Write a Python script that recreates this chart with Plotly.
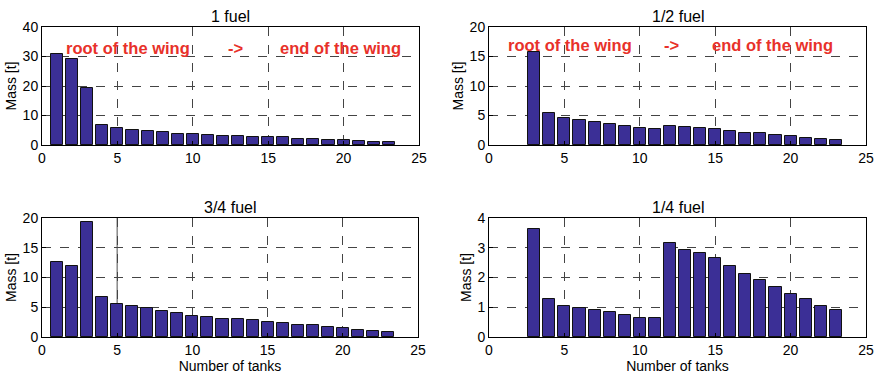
import plotly.graph_objects as go

tanks = list(range(1, 24))
full_fuel = [30.8, 29.3, 19.4, 6.9, 5.8, 5.2, 4.8, 4.5, 3.9, 3.7, 3.4, 3.1, 3.1, 2.8, 2.8, 2.6, 2.2, 1.9, 1.6, 1.6, 1.3, 1.1, 1.1]
half_fuel = [None, None, 15.7, 5.4, 4.55, 4.2, 3.9, 3.5, 3.3, 2.9, 2.7, 3.15, 3.1, 2.9, 2.7, 2.4, 2.1, 2.0, 1.7, 1.5, 1.25, 1.1, 0.9]
three_q_fuel = [12.6, 12.0, 19.3, 6.7, 5.5, 5.15, 4.9, 4.4, 4.0, 3.5, 3.4, 3.1, 3.0, 2.8, 2.6, 2.35, 2.1, 2.0, 1.6, 1.5, 1.2, 1.0, 0.9]
quarter_fuel = [None, None, 3.64, 1.29, 1.05, 0.97, 0.91, 0.85, 0.73, 0.65, 0.63, 3.17, 2.91, 2.81, 2.66, 2.40, 2.13, 1.90, 1.67, 1.46, 1.27, 1.05, 0.91]

titles = ["1 fuel", "1/2 fuel", "3/4 fuel", "1/4 fuel"]
series = [full_fuel, half_fuel, three_q_fuel, quarter_fuel]
y_ranges = [[0, 40], [0, 20], [0, 20], [0, 4]]
y_dticks = [10, 5, 5, 1]
x_ticks = [0, 5, 10, 15, 20, 25]

W, H = 880, 378
dom_x = [[42 / W, 419 / W], [489 / W, 866 / W], [42 / W, 418 / W], [489 / W, 866 / W]]
dom_y = [[1 - 145 / H, 1 - 27 / H], [1 - 145 / H, 1 - 27 / H], [1 - 337 / H, 1 - 218 / H], [1 - 337 / H, 1 - 218 / H]]

FONT = "Liberation Sans, Arial, sans-serif"
fig = go.Figure()

for i in range(4):
    n = "" if i == 0 else str(i + 1)
    fig.add_trace(go.Bar(
        x=tanks, y=series[i], width=0.8,
        marker=dict(color="#3b2f96", line=dict(color="#111111", width=1)),
        xaxis="x" + n, yaxis="y" + n, showlegend=False,
    ))
    common = dict(
        showgrid=True, gridcolor="#444444", griddash="dash", gridwidth=1,
        showline=True, linecolor="black", linewidth=1, mirror=True,
        ticks="inside", ticklen=4, tickcolor="black",
        tickfont=dict(family=FONT, size=14, color="black"),
        zeroline=False, automargin=False,
    )
    fig.layout["xaxis" + n] = dict(
        domain=dom_x[i], range=[0, 25], tickvals=x_ticks, anchor="y" + n,
        title=dict(text="Number of tanks", font=dict(family=FONT, size=14, color="black"), standoff=4) if i >= 2 else None,
        **common,
    )
    fig.layout["yaxis" + n] = dict(
        domain=dom_y[i], range=y_ranges[i], dtick=y_dticks[i], anchor="x" + n,
        title=dict(text="Mass [t]", font=dict(family=FONT, size=14, color="black"), standoff=2),
        **common,
    )
    fig.add_annotation(
        text=titles[i], x=(dom_x[i][0] + dom_x[i][1]) / 2, y=dom_y[i][1],
        xref="paper", yref="paper", yanchor="bottom", xanchor="center", yshift=0,
        showarrow=False, font=dict(family=FONT, size=16, color="black"),
    )

red = dict(family="Liberation Sans, Arial, sans-serif", size=16.5, color="#e8312a")
labels = [("root of the wing", 5.7, 32.9, "x", "y"), ("->", 12.8, 32.9, "x", "y"), ("end of the wing", 19.8, 32.9, "x", "y"),
          ("root of the wing", 5.4, 16.9, "x2", "y2"), ("->", 12.1, 16.9, "x2", "y2"), ("end of the wing", 18.8, 16.9, "x2", "y2")]
for txt, xv, yv, xr, yr in labels:
    fig.add_annotation(text="<b>" + txt + "</b>", x=xv, y=yv, xref=xr, yref=yr, showarrow=False, font=red)

# solid gray line at x=5 in the 3/4 fuel panel
fig.add_shape(type="line", x0=5, x1=5, y0=0, y1=20, xref="x3", yref="y3",
              line=dict(color="#888888", width=1.5), layer="below")

fig.update_layout(
    width=W, height=H, margin=dict(l=0, r=0, t=0, b=0),
    paper_bgcolor="white", plot_bgcolor="white", bargap=0,
    font=dict(family=FONT, size=13, color="black"),
)
fig.write_html("out.html", config={"displayModeBar": False},
               post_script="document.body.style.margin='0px';document.body.style.overflow='hidden';")
